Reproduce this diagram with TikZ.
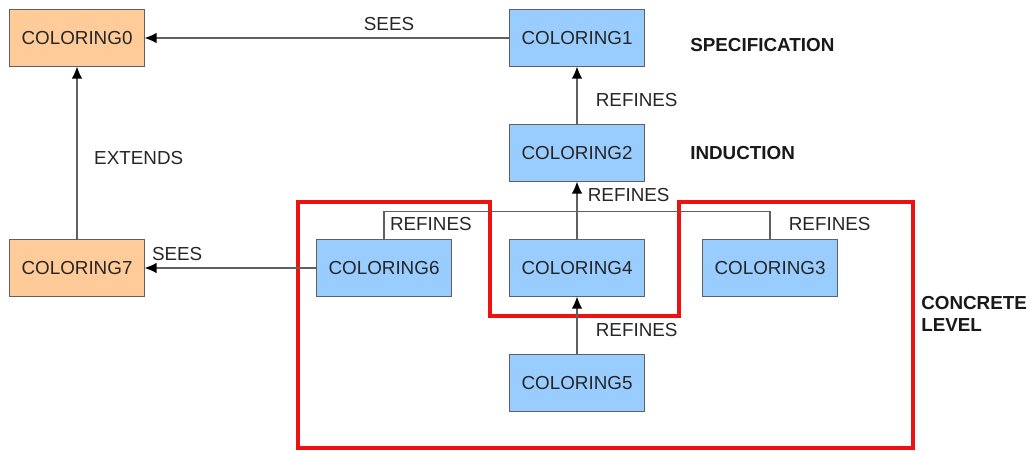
\documentclass[tikz,border=0pt]{standalone}
\usepackage{fontspec}
\setmainfont{Liberation Sans}
\usetikzlibrary{positioning, arrows.meta, calc}
\definecolor{boxorange}{HTML}{FFCC99}
\definecolor{boxblue}{HTML}{99CCFF}
\definecolor{edgegray}{HTML}{606060}
\definecolor{framered}{HTML}{EE1111}

\begin{document}
\begin{tikzpicture}[
    machine/.style={draw=edgegray, line width=0.9pt, rectangle, minimum width=3.375cm, minimum height=1.425cm, inner sep=0pt, outer sep=0pt, font=\fontsize{13.4}{16}\selectfont, text=black!85},
    abstract/.style={machine, fill=boxorange},
    concrete/.style={machine, fill=boxblue},
    edge/.style={draw=edgegray, line width=0.9pt, -{Latex[length=3mm, width=2.6mm, color=black]}},
    link/.style={draw=edgegray, line width=0.9pt},
    rellabel/.style={font=\fontsize{13.4}{16}\selectfont, text=black!85, inner sep=1pt},
    levellabel/.style={font=\fontsize{13.4}{16}\selectfont\bfseries, text=black!90, align=left, anchor=west, inner sep=0pt},
    frame/.style={draw=framered, line width=2.2pt}
]
\useasboundingbox (0,0) rectangle (25.8,-11.25);

% Machines
\node[concrete] (c1) at (14.425,-0.95) {COLORING1};
\node[concrete, below=1.45cm of c1] (c2) {COLORING2};
\node[concrete, below=1.45cm of c2] (c4) {COLORING4};
\node[concrete, below=1.45cm of c4] (c5) {COLORING5};
\node[concrete, left=1.45cm of c4] (c6) {COLORING6};
\node[concrete, right=1.45cm of c4] (c3) {COLORING3};
\node[abstract, left=4.3cm of c6] (c7) {COLORING7};
\node[abstract] (c0) at (c7 |- c1) {COLORING0};
\coordinate[above=0.7cm of c4.north] (jn);

% Levels
\node[levellabel] (spec) at (17.25,-1.125) {SPECIFICATION};
\node[levellabel] (ind) at (spec.west |- c2) {INDUCTION};
\node[levellabel] (conc) at (23.025,-7.85) {CONCRETE\\LEVEL};

% Concrete level frame
\draw[frame] (7.45,-5.05) -| (12.25,-7.9) -| (16.975,-5.05) -| (22.825,-11.2) -- (7.45,-11.2) -- cycle;

% Relations
\draw[edge] (c1.west) -- (c0.east) node[pos=0.33, above=4pt, rellabel] {SEES};
\draw[edge] (c7.north) -- (c0.south) node[pos=0.47, right=0.38cm, rellabel] {EXTENDS};
\draw[edge] (c2.north) -- (c1.south) node[pos=0.42, right=0.42cm, rellabel] {REFINES};
\draw[edge] (c4.north) -- (c2.south) node[pos=0.76, right=0.22cm, rellabel] {REFINES};
\draw[edge] (c5.north) -- (c4.south) node[pos=0.43, right=0.42cm, rellabel] {REFINES};
\draw[edge] (c6.west) -- (c7.east) node[pos=0.81, above=4pt, rellabel] {SEES};
\draw[link] (c6.north) node[rellabel, anchor=south west, xshift=0.1cm, yshift=0.18cm] {REFINES} |- (jn);
\draw[link] (c3.north) node[rellabel, anchor=south west, xshift=0.42cm, yshift=0.18cm] {REFINES} |- (jn);

\end{tikzpicture}
\end{document}
